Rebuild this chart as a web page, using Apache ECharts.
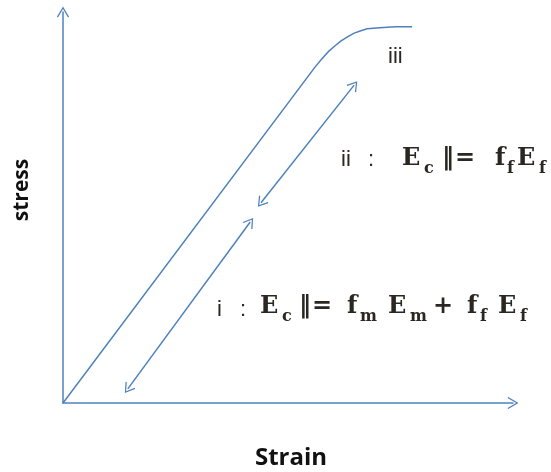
<!DOCTYPE html>
<html>
<head>
<meta charset="utf-8">
<style>
    html, body { margin: 0; padding: 0; background: #fff; }
    #main { width: 551px; height: 472px; }
</style>
<script src="https://cdn.jsdelivr.net/npm/echarts@6/dist/echarts.min.js"></script>
</head>
<body>
<div id="main"></div>
<script type="text/javascript">
// stress-strain curve, arbitrary units (0..100 on both axes)
var strain = [0, 56.0, 57.5, 58.9, 60.4, 61.8, 63.3, 64.7, 66.2, 67.6, 70.4, 73.8, 77.6];
var stress = [0, 85.9, 88.0, 89.8, 91.3, 92.6, 93.7, 94.6, 95.2, 95.7, 96.0, 96.2, 96.2];
// double arrows for region i and region ii: [x1, y1, x2, y2]
var regionI = [14.4, 3.6, 41.6, 46.3];
var regionII = [44.0, 51.2, 64.7, 81.3];

var blue = '#4f81bd';
var chevron = 'path://M50,0 L100,84 L91,90 L50,20 L9,90 L0,84 Z';

var curve = strain.map(function (x, i) { return [x, stress[i]]; });

function arrowPair(r) {
    return [{ coord: [r[0], r[1]] }, { coord: [r[2], r[3]] }];
}

var serif = 'bold {s}px "DejaVu Serif", "Liberation Serif", serif';
var sans = '{s}px "Liberation Sans", "Open Sans", sans-serif';

// formula pieces: text, x, y, size, font
var pieces = [
    ['i', 217, 310, 22, sans], [':', 240, 310, 22, sans],
    ['E', 260, 307, 24, serif], ['c', 282, 317, 16, serif],
    ['\u2016', 299, 307, 24, serif], ['=', 312, 307, 24, serif],
    ['f', 347, 307, 24, serif], ['m', 360, 317, 16, serif],
    ['E', 388, 307, 24, serif], ['m', 410, 317, 16, serif],
    ['+', 433, 307, 24, serif],
    ['f', 467, 307, 24, serif], ['f', 480, 317, 16, serif],
    ['E', 498, 307, 24, serif], ['f', 520, 317, 16, serif],

    ['ii', 341, 160, 22, sans], [':', 368, 160, 22, sans],
    ['E', 402, 159, 24, serif], ['c', 424, 169, 16, serif],
    ['\u2016', 442, 159, 24, serif], ['=', 455, 159, 24, serif],
    ['f', 495, 159, 24, serif], ['f', 507, 169, 16, serif],
    ['E', 517, 159, 24, serif], ['f', 539, 169, 16, serif],

    ['iii', 388, 57, 22, sans]
];

var graphics = pieces.map(function (p) {
    return {
        type: 'text', x: p[1], y: p[2], silent: true,
        style: {
            text: p[0], fill: '#2a2622',
            font: p[4].replace('{s}', p[3]),
            textAlign: 'left', textVerticalAlign: 'middle'
        }
    };
});
graphics.push({
    type: 'text', x: 291, y: 458, silent: true,
    style: { text: 'Strain', fill: '#111', font: 'bold 24px "Open Sans", sans-serif',
        textAlign: 'center', textVerticalAlign: 'middle' }
});
graphics.push({
    type: 'text', x: 22, y: 190, rotation: Math.PI / 2, silent: true,
    style: { text: 'stress', fill: '#111', font: 'bold 21px "Open Sans", sans-serif',
        textAlign: 'center', textVerticalAlign: 'middle' }
});

var axisCommon = {
    type: 'value', min: 0, max: 100,
    axisLine: {
        show: true, onZero: false,
        symbol: ['none', chevron], symbolSize: [13, 11],
        lineStyle: { color: blue, width: 1.5 }
    },
    axisTick: { show: false },
    axisLabel: { show: false },
    splitLine: { show: false }
};

var myChart = echarts.init(document.getElementById('main'));
var option = {
    animation: false,
    grid: { left: 63, right: 38, top: 12, bottom: 69 },
    xAxis: axisCommon,
    yAxis: axisCommon,
    graphic: graphics,
    series: [{
        type: 'line',
        data: curve,
        smooth: false,
        showSymbol: false,
        lineStyle: { color: blue, width: 1.5, join: 'round' },
        markLine: {
            silent: true,
            symbol: [chevron, chevron],
            symbolSize: [12, 10],
            label: { show: false },
            lineStyle: { color: blue, width: 1.5, type: 'solid' },
            data: [arrowPair(regionI), arrowPair(regionII)]
        }
    }]
};
myChart.setOption(option);
</script>
</body>
</html>
